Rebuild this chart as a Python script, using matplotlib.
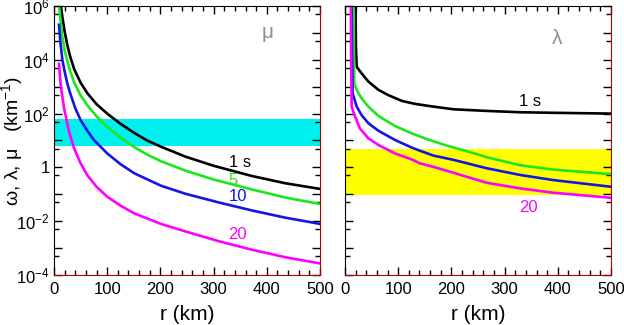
import numpy as np
import matplotlib.pyplot as plt
from matplotlib.ticker import FixedLocator, MultipleLocator, NullFormatter

plt.rcParams['font.family'] = ['Liberation Sans', 'DejaVu Sans']
plt.rcParams['mathtext.fontset'] = 'custom'
plt.rcParams['mathtext.rm'] = 'Liberation Sans'
plt.rcParams['mathtext.it'] = 'Liberation Sans:italic'
plt.rcParams['mathtext.default'] = 'regular'

# left panel (mu): r in km, log10 of value
mu_1s_r = [13, 16, 20, 25, 30, 38, 50, 63, 80, 100, 125, 151, 175, 201, 247, 300, 372, 435, 500]
mu_1s_v = [6.0, 5.55, 5.05, 4.55, 4.15, 3.65, 3.15, 2.75, 2.35, 2.0, 1.62, 1.28, 1.0, 0.77, 0.40, 0.06, -0.32, -0.59, -0.80]
mu_5_r = [9.5, 12, 15.7, 20, 25, 30, 38, 50, 63, 80, 100, 125, 151, 175, 201, 247, 300, 372, 435, 500]
mu_5_v = [6.0, 5.5, 4.85, 4.35, 3.95, 3.6, 3.15, 2.68, 2.3, 1.9, 1.51, 1.1, 0.75, 0.48, 0.23, -0.12, -0.45, -0.82, -1.12, -1.36]
mu_10_r = [9.4, 12, 15.7, 20.7, 25, 31, 40, 50, 63, 75, 100, 125, 151, 201, 247, 309, 372, 435, 500]
mu_10_v = [5.3, 4.65, 4.0, 3.5, 3.12, 2.72, 2.2, 1.76, 1.35, 1.02, 0.52, 0.12, -0.22, -0.68, -0.98, -1.3, -1.6, -1.87, -2.1]
mu_20_r = [9.4, 12.6, 19, 28, 38, 50, 63, 80, 100, 125, 151, 201, 247, 309, 372, 435, 500]
mu_20_v = [3.85, 3.06, 2.2, 1.35, 0.7, 0.15, -0.3, -0.72, -1.09, -1.42, -1.71, -2.10, -2.38, -2.74, -3.06, -3.34, -3.57]

# right panel (lambda)
la_1s_r = [20, 20.5, 22, 31, 44, 63, 81, 107, 132, 166, 204, 266, 329, 391, 500]
la_1s_v = [6.0, 4.5, 3.74, 3.5, 3.19, 2.88, 2.69, 2.47, 2.36, 2.26, 2.16, 2.10, 2.05, 2.03, 2.0]
la_5_r = [16, 17, 17.5, 22, 31, 44, 63, 94, 125, 150, 185, 204, 247, 266, 329, 391, 500]
la_5_v = [6.0, 4.0, 3.13, 2.88, 2.57, 2.26, 1.91, 1.54, 1.27, 1.08, 0.85, 0.74, 0.50, 0.38, 0.08, -0.08, -0.25]
la_10_r = [12.5, 13.5, 14.4, 22, 31, 44, 63, 94, 125, 141, 166, 204, 266, 329, 391, 500]
la_10_v = [6.0, 4.0, 2.75, 2.26, 1.95, 1.64, 1.36, 1.02, 0.74, 0.62, 0.44, 0.28, -0.03, -0.28, -0.47, -0.72]
la_20_r = [11, 11.8, 12.5, 19, 28, 44, 63, 94, 125, 141, 166, 204, 266, 329, 391, 500]
la_20_v = [6.0, 3.5, 2.26, 1.89, 1.45, 1.08, 0.83, 0.52, 0.30, 0.15, 0.02, -0.20, -0.57, -0.78, -0.94, -1.13]

cyan_band = [6.3, 63]
yellow_band = [0.093, 4.7]

colors = ['black', '#1ee61e', '#1414e6', '#ff00ff']

fig = plt.figure(figsize=(6.24, 3.25), dpi=100)
ax1 = fig.add_axes([54/624, 1-275/325, 266/624, 269/325])
ax2 = fig.add_axes([345/624, 1-275/325, 266/624, 269/325])

ax1.axhspan(cyan_band[0], cyan_band[1], color='#00f0f0', lw=0, zorder=0)
ax2.axhspan(yellow_band[0], yellow_band[1], color='#ffff00', lw=0, zorder=0)

for r, v, c in zip([mu_1s_r, mu_5_r, mu_10_r, mu_20_r], [mu_1s_v, mu_5_v, mu_10_v, mu_20_v], colors):
    ax1.plot(r, 10**np.array(v), color=c, lw=1.9)
for r, v, c in zip([la_1s_r, la_5_r, la_10_r, la_20_r], [la_1s_v, la_5_v, la_10_v, la_20_v], colors):
    ax2.plot(r, 10**np.array(v), color=c, lw=1.9)

# curve labels
ax1.text(349, 10**0.2, '1 s', color=colors[0], fontsize=12, ha='center', va='center')
ax1.text(337, 10**-0.47, '5', color=colors[1], fontsize=12, ha='center', va='center')
ax1.text(345, 10**-1.1, '10', color=colors[2], fontsize=12, ha='center', va='center')
ax1.text(345, 10**-2.48, '20', color=colors[3], fontsize=12, ha='center', va='center')
ax2.text(348, 10**2.44, '1 s', color=colors[0], fontsize=12, ha='center', va='center')
ax2.text(344, 10**-1.48, '20', color=colors[3], fontsize=12, ha='center', va='center')

ax1.text(401, 10**5.0, 'μ', color='#909090', fontsize=15, ha='center', va='center')
ax2.text(398, 10**4.8, 'λ', color='#909090', fontsize=15, ha='center', va='center')

ytick_vals = [10.0**k for k in range(-4, 7)]
ytick_lbls = []
for k in range(-4, 7):
    if k % 2:
        ytick_lbls.append('')
    elif k == 0:
        ytick_lbls.append('1')
    else:
        ytick_lbls.append('$10^{%d}$' % k)

for ax in (ax1, ax2):
    ax.set_yscale('log')
    ax.set_xlim(0, 500)
    ax.set_ylim(1e-4, 1e6)
    ax.xaxis.set_major_locator(MultipleLocator(100))
    ax.xaxis.set_minor_locator(MultipleLocator(20))
    ax.yaxis.set_major_locator(FixedLocator(ytick_vals))
    ax.yaxis.set_minor_locator(FixedLocator([5 * 10.0**k for k in range(-5, 6)]))
    ax.yaxis.set_minor_formatter(NullFormatter())
    ax.tick_params(which='both', direction='in', top=True, right=True, labelsize=12, width=1)
    ax.tick_params(which='major', length=6)
    ax.tick_params(which='minor', length=3.5)
    ax.tick_params(axis='x', pad=5)
    ax.tick_params(axis='y', pad=3)
    ax.spines['bottom'].set_color('#b00000')
    ax.spines['right'].set_color('#b00000')
    ax.set_xlabel('r (km)', fontsize=15, labelpad=6)

ax1.set_yticklabels(ytick_lbls)
ax2.set_yticklabels([])
ax1.set_ylabel('ω, λ, μ   (km$^{-1}$)', fontsize=14)
ax1.yaxis.set_label_coords(-0.108, 0.5)

fig.savefig('out.png', dpi=100)
